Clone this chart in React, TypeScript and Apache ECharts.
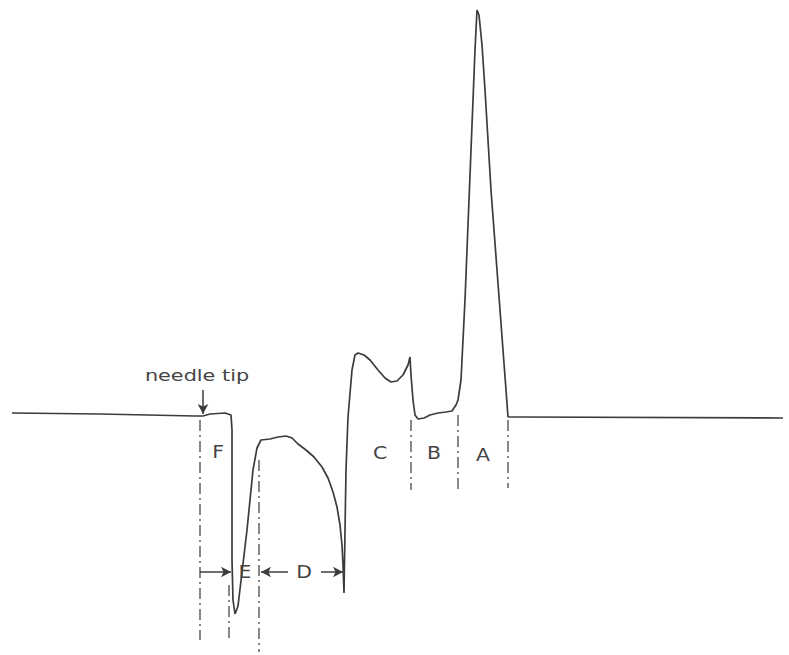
import React, { useEffect, useRef } from "react";
import * as echarts from "echarts";

// Time axis (arbitrary units) and amplitude (positive up, baseline = 0)
const waveX = [12, 100, 195, 203, 210, 225, 231, 232, 232, 233, 235, 238, 247, 253, 257, 261, 270, 278, 286, 292, 298, 306, 314, 322, 328, 333, 337, 340, 342, 343, 344, 346, 348, 352, 355, 358, 364, 370, 378, 385, 391, 397, 403, 408, 410, 411, 413, 415, 418, 424, 430, 438, 446, 452, 456, 458, 461, 463, 465, 467, 469, 471, 473, 475, 477, 479, 482, 485, 488, 491, 494, 497, 500, 503, 506, 508, 520, 783];
const waveY = [3, 2, 0, 0, 2, 3, 1, -14, -144, -184, -198, -190, -114, -54, -32, -24, -23, -21, -20, -22, -28, -34, -41, -51, -62, -76, -91, -109, -129, -149, -177, -54, -1, 46, 61, 63, 61, 56, 46, 38, 34, 35, 41, 51, 59, 41, 16, 1, -3, -2, 1, 3, 4, 5, 11, 16, 36, 76, 116, 166, 216, 266, 316, 366, 406, 401, 371, 326, 276, 226, 186, 146, 106, 66, 26, -1, -1, -2];

// Segment boundaries (dash-dot markers): x position, top and bottom amplitude
const boundaryX = [200, 229, 259, 411, 458, 508];
const boundaryTop = [-4, -169, -44, -4, 1, -4];
const boundaryBottom = [-224, -224, -236, -74, -76, -72];

// Segment labels
const segmentNames = ["F", "E", "D", "C", "B", "A"];
const segmentX = [218, 245, 304, 380, 434, 483];
const segmentY = [-36, -156, -156, -37, -37, -39];

// Interval arrows (from -> to) at the E / D level
const arrowFromX = [200, 288, 321];
const arrowToX = [231, 261, 343];
const arrowY = -156;

// Needle tip marker
const needleLabel = "needle tip";
const needleLabelX = 197;
const needleLabelY = 41;
const needleX = 203;
const needleTop = 26;
const needleBottom = 2;

export default function App() {
  const ref = useRef<HTMLDivElement>(null);
  useEffect(() => {
    if (!ref.current) return;
    const chart = echarts.init(ref.current, null, { renderer: "svg" });
    const ink = "#3c3c3c";
    const series: any[] = [];
    series.push({
      type: "line",
      data: waveX.map((x, i) => [x, waveY[i]]),
      showSymbol: false,
      symbol: "none",
      lineStyle: { color: ink, width: 1.7 },
      z: 5,
    });
    boundaryX.forEach((x, i) => {
      series.push({
        type: "line",
        data: [
          [x, boundaryTop[i]],
          [x, boundaryBottom[i]],
        ],
        symbol: "none",
        lineStyle: { color: "#555", width: 1.4, type: [11, 4, 2, 4] },
        z: 3,
      });
    });
    series.push({
      type: "line",
      data: [],
      markLine: {
        silent: true,
        symbol: ["none", "arrow"],
        symbolSize: [8, 10],
        label: { show: false },
        lineStyle: { color: ink, width: 1.5, type: "solid" },
        data: [
          ...arrowFromX.map((fx, i) => [
            { coord: [fx, arrowY] },
            { coord: [arrowToX[i], arrowY] },
          ]),
          [{ coord: [needleX, needleTop] }, { coord: [needleX, needleBottom] }],
        ],
      },
    });
    chart.setOption({
      animation: false,
      backgroundColor: "#ffffff",
      grid: { left: 0, right: 0, top: 0, bottom: 0 },
      xAxis: { type: "value", min: 0, max: 789, show: false },
      yAxis: { type: "value", min: -239, max: 416, show: false },
      series,
    });
    const toPx = (x: number, y: number) =>
      chart.convertToPixel({ gridIndex: 0 }, [x, y]) as number[];
    const textEl = (text: string, p: number[], size: number, sx: number) => ({
      type: "text",
      x: p[0],
      y: p[1],
      scaleX: sx,
      z: 10,
      style: {
        text,
        fill: "#444",
        font: `${size}px "DejaVu Sans"`,
        align: "center",
        verticalAlign: "middle",
      },
    });
    const graphic: any[] = segmentNames.map((n, i) =>
      textEl(n, toPx(segmentX[i], segmentY[i]), 17, 1.2)
    );
    graphic.push(textEl(needleLabel, toPx(needleLabelX, needleLabelY), 16, 1.3));
    chart.setOption({ graphic });
    return () => chart.dispose();
  }, []);
  return (
    <div
      ref={ref}
      style={{ position: "fixed", left: 0, top: 0, width: 789, height: 655, background: "#fff" }}
    />
  );
}
